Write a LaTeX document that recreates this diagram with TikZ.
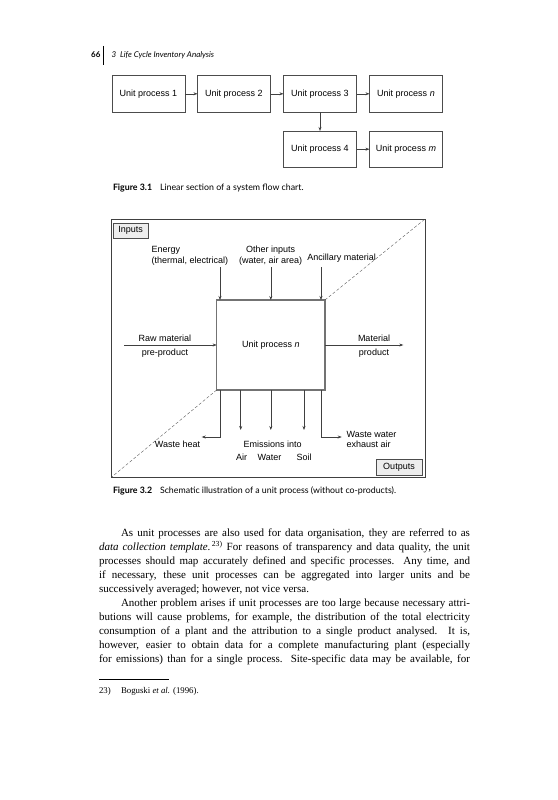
\documentclass[tikz,border=0pt]{standalone}
\usepackage{fontspec}
\setmainfont{Liberation Serif}
\newfontfamily\diagf{Liberation Sans}
\newfontfamily\capf{Lato}
\usetikzlibrary{arrows.meta}
\newcommand{\jl}[1]{\hbox to 371pt{#1}}
\newcommand{\jlast}[1]{\hbox to 371pt{#1\hfil}}
\begin{document}
\begin{tikzpicture}[x=1pt,y=-1pt,
  every node/.style={inner sep=0pt, outer sep=0pt},
  flowbox/.style={draw=black!70, line width=0.6pt, minimum width=73pt, minimum height=36.5pt, font=\diagf\fontsize{9}{10.5}\selectfont},
  arr/.style={-{Stealth[length=4pt,width=3pt]}, line width=0.55pt, draw=black!75},
  lbl/.style={font=\diagf\fontsize{9}{10.5}\selectfont},
  tagbox/.style={draw=black!70, fill=black!7, line width=0.6pt, font=\diagf\fontsize{9}{10.5}\selectfont},
  diag/.style={densely dashed, line width=0.35pt, draw=black!70},
  capb/.style={font=\capf\bfseries\fontsize{8.8}{10}\selectfont, anchor=base west},
  capt/.style={font=\capf\fontsize{8.8}{10}\selectfont, anchor=base west},
  body/.style={font=\fontsize{11}{13.95}\selectfont, anchor=base west}
]
\useasboundingbox (0,0) rectangle (557,800);
\fill[white] (0,0) rectangle (557,800);

% header
\node[font=\capf\bfseries\fontsize{8}{10}\selectfont, anchor=base east] (pg) at (100.5,57) {66};
\coordinate (hr1) at (103.3,46);
\coordinate (hr2) at (103.3,65);
\draw[line width=1pt] (hr1) -- (hr2);
\node[font=\capf\itshape\fontsize{8}{10}\selectfont, anchor=base west] (run) at (111.7,57) {3\ \ Life Cycle Inventory Analysis};

% Figure 3.1
\node[flowbox] (p1) at (148.3,93.8) {Unit process 1};
\node[flowbox] (p2) at (234,93.8) {Unit process 2};
\node[flowbox] (p3) at (320,93.8) {Unit process 3};
\node[flowbox] (pn) at (406,93.8) {Unit process \textit{n}};
\node[flowbox] (p4) at (320,149.2) {Unit process 4};
\node[flowbox] (pm) at (406,149.2) {Unit process \textit{m}};
\draw[arr] (p1) -- (p2);
\draw[arr] (p2) -- (p3);
\draw[arr] (p3) -- (pn);
\draw[arr] (p3) -- (p4);
\draw[arr] (p4) -- (pm);

\node[capb] (c1a) at (113,190) {Figure 3.1};
\node[capt] (c1b) at (160,190) {Linear section of a system flow chart.};

% Figure 3.2
\node[draw=black!75, line width=0.6pt, minimum width=313.3pt, minimum height=258pt, anchor=north west] (frame) at (111.7,219) {};
\node[draw=black!55, line width=1.3pt, minimum width=108.3pt, minimum height=90pt, lbl] (unit) at (270.8,345) {Unit process \textit{n}};
\draw[diag] (unit.north east) -- (frame.north east);
\draw[diag] (unit.south west) -- (frame.south west);

\node[tagbox, minimum width=34.7pt, minimum height=15pt] (inp) at (130.7,230.8) {Inputs};
\node[tagbox, minimum width=46pt, minimum height=15.7pt] (outp) at (399,467.2) {Outputs};

\node[lbl, align=left, anchor=west] (en) at (151.7,255.7) {Energy\\(thermal, electrical)};
\node[lbl, align=center] (oi) at (270.7,255.7) {Other inputs\\(water, air area)};
\node[lbl, anchor=west] (anc) at (307.3,258.3) {Ancillary material};

\coordinate (i1) at (220,267.3);
\coordinate (i2) at (270.8,267.3);
\coordinate (i3) at (321,267.3);
\draw[arr] (i1) -- (i1 |- unit.north);
\draw[arr] (i2) -- (i2 |- unit.north);
\draw[arr] (i3) -- (i3 |- unit.north);

\coordinate (raw) at (124,345);
\coordinate (mat) at (403.3,345);
\draw[arr] (raw) -- (unit.west);
\draw[arr] (unit.east) -- (mat);
\node[lbl] (rm) at (165,338.3) {Raw material};
\node[lbl] (pp) at (165,353.3) {pre-product};
\node[lbl] (ml) at (374,338.3) {Material};
\node[lbl] (pr) at (374,353.3) {product};

% outputs
\coordinate (wh1) at (220,437);
\coordinate (wh) at (201.7,437);
\draw[arr] (wh1 |- unit.south) -- (wh1) -- (wh);
\coordinate (ea) at (240.7,430);
\coordinate (ew) at (270.8,430);
\coordinate (es) at (304,430);
\draw[arr] (ea |- unit.south) -- (ea);
\draw[arr] (ew |- unit.south) -- (ew);
\draw[arr] (es |- unit.south) -- (es);
\coordinate (ww1) at (321.5,437);
\coordinate (ww) at (341.7,437);
\draw[arr] (ww1 |- unit.south) -- (ww1) -- (ww);

\node[lbl] (whl) at (177.5,444.5) {Waste heat};
\node[lbl] (emi) at (272.7,444.5) {Emissions into};
\node[lbl] (air) at (241.7,457.5) {Air};
\node[lbl] (wat) at (269.5,457.5) {Water};
\node[lbl] (soi) at (304,457.5) {Soil};
\node[lbl, align=left, anchor=west] (wwl) at (346.7,439.5) {Waste water\\exhaust air};

\node[capb] (c2a) at (113,493) {Figure 3.2};
\node[capt] (c2b) at (160,493) {Schematic illustration of a unit process (without co-products).};

% body text
\node[body] (l1) at (99,536.5) {\jl{\hspace*{22pt}As unit processes are also used for data organisation, they are referred to as}};
\node[body] (l2) at (99,550.45) {\jl{\textit{data collection template.}\textsuperscript{\,23)} For reasons of transparency and data quality, the unit}};
\node[body] (l3) at (99,564.4) {\jl{processes should map accurately defined and specific processes. Any time, and}};
\node[body] (l4) at (99,578.35) {\jl{if necessary, these unit processes can be aggregated into larger units and be}};
\node[body] (l5) at (99,592.3) {\jlast{successively averaged; however, not vice versa.}};
\node[body] (l6) at (99,606.25) {\jl{\hspace*{22pt}Another problem arises if unit processes are too large because necessary attri-}};
\node[body] (l7) at (99,620.2) {\jl{butions will cause problems, for example, the distribution of the total electricity}};
\node[body] (l8) at (99,634.15) {\jl{consumption of a plant and the attribution to a single product analysed. It is,}};
\node[body] (l9) at (99,648.1) {\jl{however, easier to obtain data for a complete manufacturing plant (especially}};
\node[body] (l10) at (99,662.05) {\jl{for emissions) than for a single process. Site-specific data may be available, for}};

% footnote
\coordinate (fr1) at (99,679.5);
\coordinate (fr2) at (169,679.5);
\draw[line width=0.4pt] (fr1) -- (fr2);
\node[font=\fontsize{8.8}{10}\selectfont, anchor=base west] (fn1) at (99,693) {23)};
\node[font=\fontsize{8.8}{10}\selectfont, anchor=base west] (fn2) at (121,693) {Boguski \textit{et al.} (1996).};
\end{tikzpicture}
\end{document}
